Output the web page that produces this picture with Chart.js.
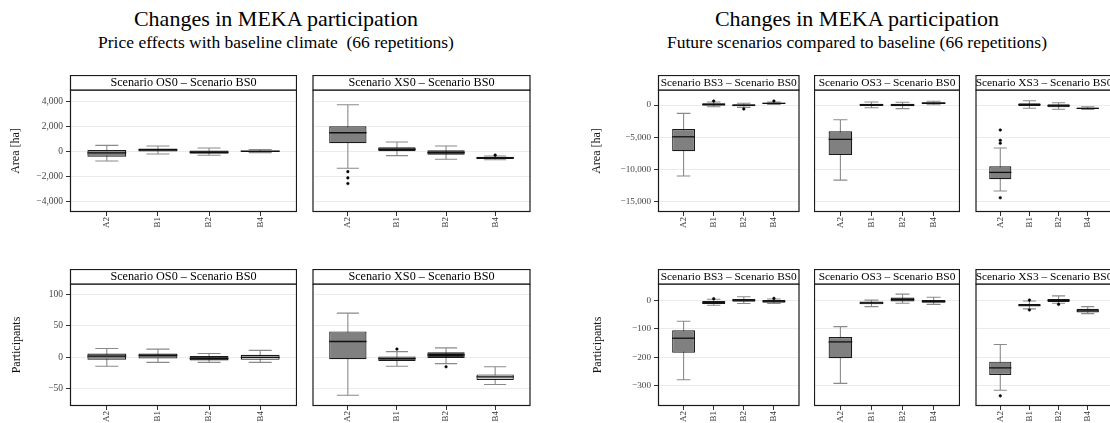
<!DOCTYPE html>
<html lang="en">
<head>
<meta charset="UTF-8">
<title>Changes in MEKA participation</title>
<script src="https://cdn.jsdelivr.net/npm/chart.js@4.4.0/dist/chart.umd.min.js"></script>
<style>
    html, body { margin: 0; padding: 0; background: #fff; }
    body { width: 1110px; height: 423px; position: relative; overflow: hidden; font-family: "Liberation Serif", "DejaVu Serif", serif; }
    .title { position: absolute; width: 500px; text-align: center; white-space: nowrap; color: #000; }
    .main { font-size: 22px; line-height: 22px; top: 8px; }
    .sub { font-size: 17.5px; line-height: 17.5px; top: 34px; }
    canvas { position: absolute; }
</style>
</head>
<body>

<div class="title main" style="left:26px;">Changes in MEKA participation</div>
<div class="title sub" style="left:26px;">Price effects with baseline climate &nbsp;(66 repetitions)</div>
<div class="title main" style="left:607px;">Changes in MEKA participation</div>
<div class="title sub" style="left:607px;">Future scenarios compared to baseline (66 repetitions)</div>

<script>
// categories on the x axis of every panel
const categories = ['A2', 'B1', 'B2', 'B4'];

// box statistics per category: [lower whisker, Q1, median, Q3, upper whisker]
// left figure: price effects, baseline climate
const areaOS0 = [[-800, -450, -150, 80, 450], [-240, -30, 100, 200, 400], [-340, -220, -100, 50, 240], [-130, -70, -20, 30, 120]];
const areaXS0 = [[-1380, 620, 1460, 1980, 3700], [-370, -20, 140, 300, 720], [-660, -300, -130, 60, 400], [-700, -640, -560, -460, -400]];
const partOS0 = [[-14, -4, 2, 6, 14], [-8, -2, 3, 6, 13], [-8, -5, -2, 2, 6], [-8, -4, 0, 4, 11]];
const partXS0 = [[-60, -3, 25, 41, 70], [-14, -6, -2, 1.5, 9], [-10, -1, 4, 8, 15], [-43, -36, -31, -27, -15]];

// right figure: future scenarios compared to baseline
const areaBS3 = [[-11050, -7200, -4950, -3750, -1300], [-270, -100, 100, 260, 470], [-360, -200, -50, 110, 270], [100, 160, 260, 360, 450]];
const areaOS3 = [[-11700, -7800, -5350, -4100, -2300], [-420, -160, 0, 200, 470], [-560, -200, -20, 200, 430], [50, 160, 290, 420, 590]];
const areaXS3 = [[-13400, -11550, -10500, -9550, -6700], [-510, -150, 50, 260, 670], [-670, -360, -100, 110, 360], [-700, -620, -520, -420, -270]];
const partBS3 = [[-280, -184, -133, -105, -73], [-16, -12, -7, -1, 5], [-10, -4, 2, 6, 14], [-10, -7, -2, 2, 6]];
const partOS3 = [[-293, -204, -146, -129, -92], [-21, -13, -8, -3, 2], [-9, -3, 4, 11, 23], [-13, -7, -3, 2, 12]];
const partXS3 = [[-317, -263, -238, -216, -155], [-29, -21, -16, -12, -1], [-9, -5, 1, 6, 17], [-46, -42, -36, -29, -21]];

// outliers: [category, value]
const areaOS0Out = [];
const areaXS0Out = [['A2', -1650], ['A2', -2150], ['A2', -2600], ['B4', -330]];
const partOS0Out = [];
const partXS0Out = [['B1', 13], ['B2', -15]];
const areaBS3Out = [['B1', 620], ['B2', -620], ['B4', 620]];
const areaOS3Out = [];
const areaXS3Out = [['A2', -3900], ['A2', -5500], ['A2', -5950], ['A2', -14450]];
const partBS3Out = [['B1', 7], ['B4', 8]];
const partOS3Out = [];
const partXS3Out = [['A2', -337], ['B1', 2], ['B1', -33], ['B2', -13]];

// y axis ranges and tick values
const areaRangeL = [-4880, 4880];
const areaTicksL = [-4000, -2000, 0, 2000, 4000];
const partRangeL = [-77, 116];
const partTicksL = [-50, 0, 50, 100];
const areaRangeR = [-16670, 2340];
const areaTicksR = [-15000, -10000, -5000, 0];
const partRangeR = [-373, 59];
const partTicksR = [-300, -200, -100, 0];

// strip labels
const stripOS0 = 'Scenario OS0 \u2013 Scenario BS0';
const stripXS0 = 'Scenario XS0 \u2013 Scenario BS0';
const stripBS3 = 'Scenario BS3 \u2013 Scenario BS0';
const stripOS3 = 'Scenario OS3 \u2013 Scenario BS0';
const stripXS3 = 'Scenario XS3 \u2013 Scenario BS0';

const boxFill = ['#808080', '#666666', '#0d0d0d', '#cccccc'];
const FONT = '"Liberation Serif", "DejaVu Serif", serif';
Chart.defaults.font.family = FONT;

function fmt(v) {
    const s = Math.abs(v).toLocaleString('en-US');
    return v < 0 ? '\u2212' + s : s;
}

// whiskers behind the boxes, medians, panel border and strip on top
const facetPlugin = {
    id: 'facet',
    beforeDatasetsDraw(chart, args, o) {
        const { ctx, scales: { x, y } } = chart;
        ctx.save();
        ctx.strokeStyle = '#8a8a8a';
        ctx.lineWidth = 1.1;
        o.stats.forEach((s, i) => {
            const cx = x.getPixelForValue(i + 1);
            const c0 = x.getPixelForValue(i + 1 - o.cap / 2);
            const c1 = x.getPixelForValue(i + 1 + o.cap / 2);
            const lo = y.getPixelForValue(s[0]);
            const hi = y.getPixelForValue(s[4]);
            ctx.beginPath();
            ctx.moveTo(cx, lo); ctx.lineTo(cx, hi);
            ctx.moveTo(c0, lo); ctx.lineTo(c1, lo);
            ctx.moveTo(c0, hi); ctx.lineTo(c1, hi);
            ctx.stroke();
        });
        ctx.restore();
    },
    afterDatasetsDraw(chart, args, o) {
        const { ctx, scales: { x, y } } = chart;
        ctx.save();
        ctx.strokeStyle = '#111';
        ctx.lineWidth = 1.3;
        o.stats.forEach((s, i) => {
            const m = y.getPixelForValue(s[2]);
            ctx.beginPath();
            ctx.moveTo(x.getPixelForValue(i + 1 - o.box / 2), m);
            ctx.lineTo(x.getPixelForValue(i + 1 + o.box / 2), m);
            ctx.stroke();
        });
        ctx.restore();
    },
    afterDraw(chart, args, o) {
        const { ctx, chartArea: a } = chart;
        ctx.save();
        ctx.lineWidth = 1.2;
        ctx.strokeStyle = '#1a1a1a';
        ctx.strokeRect(a.left + 0.5, a.top, a.right - a.left - 1, a.bottom - a.top - 0.5);
        ctx.fillStyle = '#fff';
        ctx.fillRect(a.left, a.top - 15, a.right - a.left, 15);
        ctx.strokeRect(a.left + 0.5, a.top - 14.5, a.right - a.left - 1, 14.5);
        ctx.fillStyle = '#000';
        ctx.font = o.stripSize + 'px ' + FONT;
        ctx.textAlign = 'center';
        ctx.textBaseline = 'middle';
        ctx.fillText(o.strip, (a.left + a.right) / 2, a.top - 7);
        ctx.restore();
    }
};

// page layout of the ten panels
const panels = [
    { left: 0,   top: 75,  w: 297, h: 173, yW: 70, xH: 36, m: 0.72, strip: stripOS0, stripSize: 12.2, stats: areaOS0, out: areaOS0Out, range: areaRangeL, ticks: areaTicksL, tickSize: 9.5, title: 'Area [ha]', titlePad: 8.5 },
    { left: 308, top: 75,  w: 227, h: 173, yW: 0,  xH: 36, m: 0.72, strip: stripXS0, stripSize: 12.2, stats: areaXS0, out: areaXS0Out, range: areaRangeL, ticks: areaTicksL },
    { left: 0,   top: 269, w: 297, h: 154, yW: 70, xH: 17, m: 0.72, strip: stripOS0, stripSize: 12.2, stats: partOS0, out: partOS0Out, range: partRangeL, ticks: partTicksL, tickSize: 9.5, title: 'Participants', titlePad: 9.5 },
    { left: 308, top: 269, w: 227, h: 154, yW: 0,  xH: 17, m: 0.72, strip: stripXS0, stripSize: 12.2, stats: partXS0, out: partXS0Out, range: partRangeL, ticks: partTicksL },
    { left: 580, top: 75,  w: 224, h: 173, yW: 78, xH: 36, m: 0.85, strip: stripBS3, stripSize: 11.4, stats: areaBS3, out: areaBS3Out, range: areaRangeR, ticks: areaTicksR, tickSize: 9.2, title: 'Area [ha]', titlePad: 10 },
    { left: 814, top: 75,  w: 146, h: 173, yW: 0,  xH: 36, m: 0.85, strip: stripOS3, stripSize: 11.4, stats: areaOS3, out: areaOS3Out, range: areaRangeR, ticks: areaTicksR },
    { left: 971, top: 75,  w: 146, h: 173, yW: 0,  xH: 36, m: 0.85, strip: stripXS3, stripSize: 11.4, stats: areaXS3, out: areaXS3Out, range: areaRangeR, ticks: areaTicksR },
    { left: 580, top: 269, w: 224, h: 154, yW: 78, xH: 17, m: 0.85, strip: stripBS3, stripSize: 11.4, stats: partBS3, out: partBS3Out, range: partRangeR, ticks: partTicksR, tickSize: 9.2, title: 'Participants', titlePad: 10.5 },
    { left: 814, top: 269, w: 146, h: 154, yW: 0,  xH: 17, m: 0.85, strip: stripOS3, stripSize: 11.4, stats: partOS3, out: partOS3Out, range: partRangeR, ticks: partTicksR },
    { left: 971, top: 269, w: 146, h: 154, yW: 0,  xH: 17, m: 0.85, strip: stripXS3, stripSize: 11.4, stats: partXS3, out: partXS3Out, range: partRangeR, ticks: partTicksR }
];

const BOX = 0.76;   // box width in category units
const CAP = 0.45;   // whisker cap width

function makePanel(p) {
    const cv = document.createElement('canvas');
    cv.width = p.w;
    cv.height = p.h;
    cv.style.left = p.left + 'px';
    cv.style.top = p.top + 'px';
    document.body.appendChild(cv);
    const hasY = p.yW > 0;

    return new Chart(cv, {
        type: 'bar',
        data: {
            datasets: [
                {
                    type: 'scatter',
                    data: p.out.map(o => ({ x: categories.indexOf(o[0]) + 1, y: o[1] })),
                    pointRadius: 1.3,
                    pointBackgroundColor: '#000',
                    pointBorderColor: '#000',
                    pointBorderWidth: 0.5,
                    order: 0
                },
                {
                    type: 'bar',
                    data: p.stats.map((s, i) => ({ x: i + 1, y: [s[1], s[3]] })),
                    backgroundColor: boxFill,
                    borderColor: '#1a1a1a',
                    borderWidth: 1.2,
                    borderSkipped: false,
                    barPercentage: BOX,
                    categoryPercentage: 1,
                    order: 1
                }
            ]
        },
        options: {
            responsive: false,
            animation: false,
            devicePixelRatio: 1,
            layout: { padding: { top: 15, left: 0, right: 0, bottom: 0 } },
            plugins: {
                legend: { display: false },
                tooltip: { enabled: false },
                facet: { stats: p.stats, strip: p.strip, stripSize: p.stripSize, box: BOX, cap: CAP }
            },
            scales: {
                x: {
                    type: 'linear',
                    min: 1 - p.m,
                    max: categories.length + p.m,
                    offset: false,
                    afterBuildTicks: s => { s.ticks = categories.map((c, i) => ({ value: i + 1 })); },
                    afterFit: s => { s.height = p.xH; },
                    border: { display: false },
                    grid: { offset: false, drawOnChartArea: false, drawTicks: true, tickLength: 4, tickColor: '#333' },
                    ticks: {
                        autoSkip: false, minRotation: 90, maxRotation: 90, padding: 1,
                        color: '#333', font: { size: 9 },
                        callback: v => categories[v - 1]
                    }
                },
                y: {
                    type: 'linear',
                    min: p.range[0],
                    max: p.range[1],
                    afterBuildTicks: s => { s.ticks = p.ticks.map(v => ({ value: v })); },
                    afterFit: s => { s.width = p.yW; },
                    border: { display: false },
                    grid: { color: '#ebebeb', lineWidth: 1, drawTicks: hasY, tickLength: 4, tickColor: '#333' },
                    ticks: {
                        display: hasY, padding: 3, color: '#444',
                        font: { size: p.tickSize || 9 },
                        callback: v => fmt(v)
                    },
                    title: {
                        display: !!p.title, text: p.title || '', color: '#111',
                        font: { size: 12 }, padding: { top: p.titlePad || 0, bottom: 0 }
                    }
                }
            }
        },
        plugins: [facetPlugin]
    });
}

panels.forEach(makePanel);
</script>
</body>
</html>
